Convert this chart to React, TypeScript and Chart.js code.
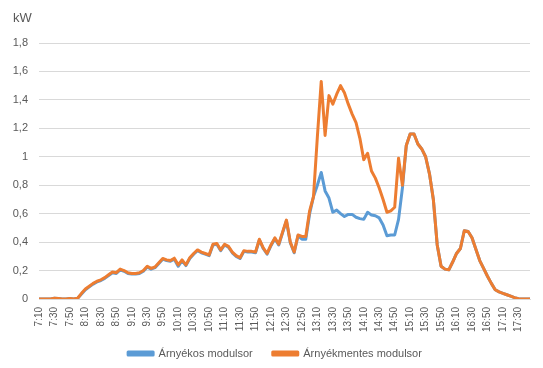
import { useEffect, useRef } from 'react';
import { Chart, registerables } from 'chart.js';

Chart.register(...registerables);

const categories = [
  '7:10','7:15','7:20','7:25','7:30','7:35','7:40','7:45','7:50','7:55',
  '8:00','8:05','8:10','8:15','8:20','8:25','8:30','8:35','8:40','8:45',
  '8:50','8:55','9:00','9:05','9:10','9:15','9:20','9:25','9:30','9:35',
  '9:40','9:45','9:50','9:55','10:00','10:05','10:10','10:15','10:20','10:25',
  '10:30','10:35','10:40','10:45','10:50','10:55','11:00','11:05','11:10','11:15',
  '11:20','11:25','11:30','11:35','11:40','11:45','11:50','11:55','12:00','12:05',
  '12:10','12:15','12:20','12:25','12:30','12:35','12:40','12:45','12:50','12:55',
  '13:00','13:05','13:10','13:15','13:20','13:25','13:30','13:35','13:40','13:45',
  '13:50','13:55','14:00','14:05','14:10','14:15','14:20','14:25','14:30','14:35',
  '14:40','14:45','14:50','14:55','15:00','15:05','15:10','15:15','15:20','15:25',
  '15:30','15:35','15:40','15:45','15:50','15:55','16:00','16:05','16:10','16:15',
  '16:20','16:25','16:30','16:35','16:40','16:45','16:50','16:55','17:00','17:05',
  '17:10','17:15','17:20','17:25','17:30','17:35','17:40','17:45',
];

const shadedSeries = [
  0, 0, 0, 0, 0.005, 0.003, 0, 0, 0.003, 0,
  0.005, 0.035, 0.065, 0.085, 0.105, 0.12, 0.13, 0.145, 0.165, 0.185,
  0.18, 0.205, 0.195, 0.18, 0.175, 0.175, 0.18, 0.195, 0.225, 0.21,
  0.22, 0.25, 0.28, 0.27, 0.265, 0.28, 0.23, 0.27, 0.235, 0.285,
  0.315, 0.34, 0.325, 0.315, 0.305, 0.38, 0.385, 0.34, 0.38, 0.365,
  0.325, 0.3, 0.285, 0.335, 0.33, 0.33, 0.325, 0.415, 0.355, 0.315,
  0.375, 0.425, 0.38, 0.465, 0.55, 0.395, 0.325, 0.445, 0.42, 0.42,
  0.6, 0.72, 0.8, 0.89, 0.76, 0.71, 0.61, 0.625, 0.6, 0.58,
  0.595, 0.595, 0.575, 0.565, 0.56, 0.61, 0.59, 0.585, 0.57, 0.52,
  0.445, 0.45, 0.45, 0.56, 0.78, 1.08, 1.16, 1.16, 1.09, 1.055,
  1.0, 0.88, 0.7, 0.38, 0.23, 0.21, 0.205, 0.26, 0.32, 0.355,
  0.48, 0.475, 0.43, 0.35, 0.27, 0.215, 0.16, 0.11, 0.065, 0.05,
  0.04, 0.03, 0.02, 0.01, 0.002, 0, 0, 0,
];

const unshadedSeries = [
  0, 0, 0, 0, 0.005, 0.003, 0, 0, 0.003, 0,
  0.005, 0.04, 0.07, 0.09, 0.11, 0.125, 0.135, 0.15, 0.17, 0.19,
  0.185, 0.21, 0.2, 0.185, 0.18, 0.18, 0.185, 0.2, 0.23, 0.215,
  0.225, 0.255, 0.285, 0.275, 0.27, 0.287, 0.24, 0.275, 0.24, 0.29,
  0.32, 0.345, 0.33, 0.32, 0.31, 0.385, 0.39, 0.345, 0.385, 0.37,
  0.33, 0.305, 0.29, 0.34, 0.335, 0.335, 0.33, 0.42, 0.36, 0.32,
  0.38, 0.43, 0.385, 0.47, 0.555, 0.4, 0.33, 0.45, 0.44, 0.44,
  0.62, 0.72, 1.14, 1.53, 1.15, 1.43, 1.37, 1.44, 1.5, 1.45,
  1.37, 1.3, 1.24, 1.13, 0.98, 1.025, 0.9, 0.85, 0.78, 0.7,
  0.61, 0.62, 0.645, 0.99, 0.8, 1.08, 1.16, 1.16, 1.09, 1.055,
  1.0, 0.88, 0.7, 0.38, 0.23, 0.21, 0.205, 0.26, 0.32, 0.355,
  0.48, 0.475, 0.43, 0.35, 0.27, 0.215, 0.16, 0.11, 0.065, 0.05,
  0.04, 0.03, 0.02, 0.01, 0.002, 0, 0, 0,
];

const yTickLabels = ['0', '0,2', '0,4', '0,6', '0,8', '1', '1,2', '1,4', '1,6', '1,8'];
const seriesNames = ['Árnyékos modulsor', 'Árnyékmentes modulsor'];
const unitLabel = 'kW';

const FONT = '"Liberation Sans", Arial, sans-serif';
const TEXT = '#595959';

export default function App() {
  const ref = useRef<HTMLCanvasElement>(null);

  useEffect(() => {
    document.body.style.margin = '0';
    const unitPlugin = {
      id: 'unitLabel',
      afterLayout(chart: any) {
        const lg = chart.legend;
        if (lg) {
          lg.left += 10;
          lg.right += 10;
          lg.top -= 8;
          lg.bottom -= 8;
        }
      },
      afterDraw(chart: any) {
        const ctx = chart.ctx;
        ctx.save();
        ctx.font = `13px ${FONT}`;
        ctx.fillStyle = TEXT;
        ctx.textBaseline = 'middle';
        ctx.textAlign = 'left';
        ctx.fillText(unitLabel, 13, 18);
        ctx.restore();
      },
    };
    const chart = new Chart(ref.current as HTMLCanvasElement, {
      type: 'line',
      data: {
        labels: categories,
        datasets: [
          {
            label: seriesNames[1],
            data: unshadedSeries,
            borderColor: '#ED7D31',
            backgroundColor: '#ED7D31',
            borderWidth: 3,
            pointRadius: 0,
            tension: 0,
            borderJoinStyle: 'round',
          },
          {
            label: seriesNames[0],
            data: shadedSeries,
            borderColor: '#5B9BD5',
            backgroundColor: '#5B9BD5',
            borderWidth: 3,
            pointRadius: 0,
            tension: 0,
            borderJoinStyle: 'round',
          },
        ],
      },
      options: {
        animation: false,
        responsive: false,
        layout: { padding: { left: 0, right: 13, top: 43, bottom: -9 } },
        plugins: {
          legend: {
            position: 'bottom',
            reverse: true,
            labels: {
              boxWidth: 25,
              boxHeight: 3,
              padding: 20,
              color: TEXT,
              font: { family: FONT, size: 11 },
            },
          },
          tooltip: { enabled: false },
        },
        scales: {
          x: {
            offset: false,
            grid: { display: false, drawTicks: false },
            border: { display: true, color: '#D9D9D9' },
            ticks: {
              autoSkip: false,
              minRotation: 90,
              maxRotation: 90,
              padding: 8,
              color: TEXT,
              font: { family: FONT, size: 10 },
              callback: (_v: any, i: number) => (i % 4 === 0 ? categories[i] : null),
            },
            afterFit: (s: any) => {
              s.height = 37;
            },
          },
          y: {
            min: 0,
            max: 1.8,
            grid: { color: '#D9D9D9', drawTicks: false },
            border: { display: false },
            ticks: {
              stepSize: 0.2,
              padding: 11,
              color: TEXT,
              font: { family: FONT, size: 11 },
              callback: (v: any) => yTickLabels[Math.round(Number(v) * 5)],
            },
            afterFit: (s: any) => {
              s.width = 39;
            },
          },
        },
      },
      plugins: [unitPlugin],
    } as any);
    return () => chart.destroy();
  }, []);

  return (
    <div style={{ width: 543, height: 368, background: '#fff' }}>
      <canvas ref={ref} width={543} height={368} style={{ display: 'block' }} />
    </div>
  );
}
